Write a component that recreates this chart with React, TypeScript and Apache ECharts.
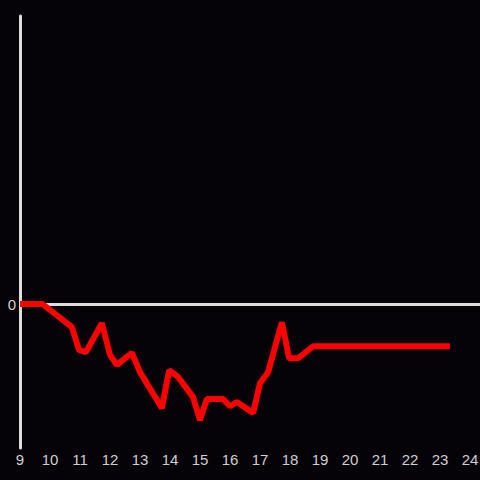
import React, { useEffect, useRef } from "react";
import * as echarts from "echarts";

const hours: number[] = [9.0, 9.75, 10.73, 10.97, 11.2, 11.73, 12.0, 12.23, 12.73, 13.0, 13.73, 13.97, 14.27, 14.77, 15.0, 15.23, 15.77, 16.0, 16.23, 16.77, 17.0, 17.27, 17.73, 17.97, 18.27, 18.77, 23.33];
const values: number[] = [0, 0, -0.48, -0.96, -1.0, -0.4, -1.06, -1.27, -1.02, -1.42, -2.17, -1.38, -1.52, -1.94, -2.42, -1.98, -1.98, -2.13, -2.04, -2.27, -1.65, -1.42, -0.38, -1.13, -1.13, -0.88, -0.88];

export default function App() {
  const ref = useRef<HTMLDivElement>(null);
  useEffect(() => {
    if (!ref.current) return;
    const chart = echarts.init(ref.current, null, { renderer: "svg" });
    const data = hours.map((h, i) => [h, values[i]]);
    chart.setOption({
      animation: false,
      backgroundColor: "#050307",
      grid: { left: 20, right: 0, top: 16, bottom: 32, containLabel: false, outerBoundsMode: "none" },
      xAxis: {
        type: "value",
        min: 9,
        max: 24 + 1 / 3,
        interval: 1,
        axisLine: { show: false },
        axisTick: { show: false },
        splitLine: { show: false },
        axisLabel: {
          color: "#d0d0d0",
          fontSize: 15,
          fontFamily: "Liberation Sans",
          margin: 4,
          hideOverlap: false,
          formatter: (v: number) => (Math.abs(v - Math.round(v)) < 1e-6 ? String(Math.round(v)) : ""),
        },
      },
      yAxis: {
        type: "value",
        min: -3,
        max: 6,
        interval: 3,
        axisLine: { show: true, onZero: false, lineStyle: { color: "#dddddd", width: 3 } },
        axisTick: { show: false },
        splitLine: {
          show: true,
          lineStyle: { color: ["rgba(0,0,0,0)", "#dddddd", "rgba(0,0,0,0)", "rgba(0,0,0,0)"], width: 3 },
        },
        axisLabel: {
          color: "#d0d0d0",
          fontSize: 15,
          fontFamily: "Liberation Sans",
          margin: 4,
          formatter: (v: number) => (v === 0 ? "0" : ""),
        },
      },
      series: [
        {
          type: "line",
          data,
          showSymbol: false,
          symbol: "none",
          lineStyle: { color: "#ff0000", width: 6 },
          z: 3,
        },
      ],
    });
    return () => chart.dispose();
  }, []);
  return <div ref={ref} style={{ position: "fixed", left: 0, top: 0, width: 480, height: 480 }} />;
}
